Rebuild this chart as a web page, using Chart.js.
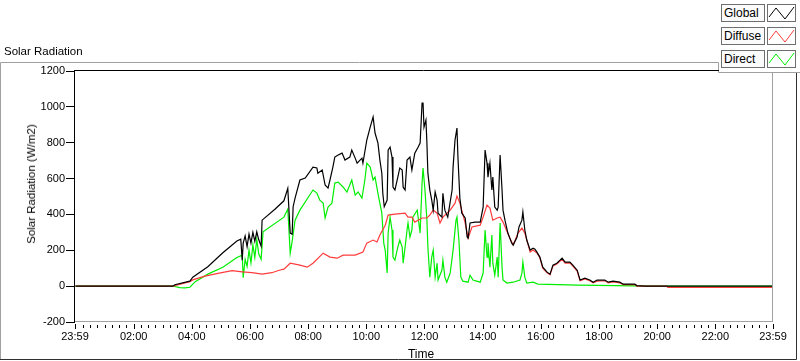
<!DOCTYPE html>
<html>
<head>
<meta charset="utf-8">
<script src="https://cdn.jsdelivr.net/npm/chart.js@4/dist/chart.umd.min.js"></script>
<style>
  body { margin: 0; background: #fff; font-family: "Liberation Sans", Arial, sans-serif; }
  #wrap { position: relative; width: 800px; height: 361px; overflow: hidden; }
  #solarChart { position: absolute; left: 0; top: 0; }
  .txt { position: absolute; color: #000; white-space: nowrap; font-size: 11.5px; line-height: 14px; }
  #legendPanel { position: absolute; left: 719px; top: 0; width: 81px; height: 72px; background: #fff; }
  .lbl { position: absolute; left: 721px; width: 40px; height: 16px; border: 1px solid #6e6e6e;
         background: #fbfbfb; font-size: 12px; line-height: 16px; padding-left: 2px; box-sizing: content-box; }
  .smp { position: absolute; left: 767px; width: 27px; height: 16px; border: 1px solid #6e6e6e; background: #fff; }
</style>
</head>
<body>
<div id="wrap">
  <canvas id="solarChart" width="800" height="361"></canvas>
  <div class="txt" style="left:4px; top:44px;">Solar Radiation</div>
  <div class="txt" style="left:31px; top:184px; transform: translate(-50%,-50%) rotate(-90deg);">Solar Radiation (W/m2)</div>
  <div class="txt" style="left:421px; top:347px; font-size:12px; transform: translateX(-50%);">Time</div>
  <div id="legendPanel"></div>
  <div id="legend"></div>
</div>
<script>
// series names and colours
var seriesNames = ["Global", "Diffuse", "Direct"];
var seriesColors = ["#000000", "#ff3c3c", "#00ee00"];

// x axis tick labels (minutes from midnight, first one is 23:59 of the day before)
var xTickMinutes = [-1, 120, 240, 360, 480, 600, 720, 840, 960, 1080, 1200, 1320, 1439];
var xTickLabels = ["23:59", "02:00", "04:00", "06:00", "08:00", "10:00", "12:00",
                   "14:00", "16:00", "18:00", "20:00", "22:00", "23:59"];

// Global (W/m2)
var globalTimes = ["00:00","03:21","03:25","03:56","04:02","04:33","05:04","05:33","05:41","05:44",
  "05:46","05:50","05:54","05:58","06:02","06:06","06:10","06:14","06:18","06:23",
  "06:25","06:52","07:10","07:18","07:23","07:27","07:29","07:33","07:43","07:54",
  "08:10","08:18","08:20","08:29","08:35","08:41","08:45","08:51","08:55","09:02",
  "09:10","09:16","09:26","09:30","09:37","09:41","09:51","09:53","10:01","10:08",
  "10:14","10:18","10:24","10:28","10:32","10:34","10:37","10:43","10:45","10:49",
  "10:53","10:55","10:59","11:05","11:09","11:14","11:16","11:20","11:24","11:30",
  "11:34","11:40","11:47","11:51","11:55","11:57","11:59","12:03","12:05","12:07",
  "12:11","12:15","12:18","12:22","12:26","12:28","12:36","12:38","12:42","12:48",
  "12:57","12:59","13:03","13:07","13:09","13:13","13:17","13:24","13:28","13:30",
  "13:34","13:44","13:55","14:01","14:05","14:09","14:11","14:15","14:19","14:21",
  "14:25","14:30","14:32","14:36","14:40","14:42","14:46","14:52","15:00","15:03",
  "15:11","15:15","15:21","15:23","15:27","15:31","15:38","15:44","15:48","15:52",
  "15:58","16:04","16:13","16:19","16:25","16:33","16:44","16:50","17:00","17:06",
  "17:15","17:21","17:31","17:41","17:48","17:56","18:12","18:19","18:29","18:43",
  "18:50","19:14","19:18","19:35","23:59"];
var globalValues = [0, 0, 8, 28, 50, 108, 186, 252, 262, 145,
  240, 280, 220, 290, 240, 300, 250, 303, 260, 223,
  368, 430, 476, 545, 296, 290, 443, 491, 592, 603,
  664, 659, 630, 648, 564, 547, 592, 664, 720, 731,
  742, 703, 720, 759, 714, 686, 714, 686, 815, 887,
  943, 854, 798, 703, 630, 518, 443, 480, 759, 776,
  720, 552, 536, 608, 659, 648, 552, 536, 703, 720,
  648, 742, 776, 798, 1021, 1021, 887, 926, 798, 630,
  536, 480, 424, 525, 480, 407, 385, 518, 424, 385,
  536, 664, 815, 882, 720, 490, 407, 380, 274, 268,
  352, 357, 357, 441, 759, 686, 608, 686, 536, 608,
  441, 424, 441, 731, 536, 424, 368, 296, 240, 229,
  274, 330, 368, 413, 313, 257, 201, 212, 206, 190,
  162, 106, 78, 67, 117, 128, 156, 134, 134, 117,
  89, 34, 45, 34, 22, 34, 34, 22, 28, 22,
  11, 11, 3, 0, 0];

// Diffuse (W/m2)
var diffuseTimes = ["00:00","03:21","03:56","04:02","04:27","04:54","05:23","05:44","06:04","06:25",
  "06:45","07:02","07:10","07:23","07:43","07:58","08:10","08:31","08:45","09:00",
  "09:12","09:37","09:53","10:01","10:14","10:22","10:28","10:39","10:45","10:59",
  "11:20","11:26","11:34","11:40","11:47","11:55","12:05","12:11","12:18","12:26",
  "12:32","12:38","12:53","13:03","13:07","13:13","13:24","13:30","13:38","13:55",
  "14:01","14:09","14:15","14:21","14:30","14:36","14:42","14:56","15:03","15:13",
  "15:21","15:27","15:38","15:44","15:52","15:58","16:04","16:13","16:19","16:25",
  "16:33","16:44","16:50","17:00","17:06","17:15","17:21","17:31","17:41","17:48",
  "17:56","18:12","18:19","18:29","18:43","18:50","19:14","19:18","20:20","20:22",
  "23:59"];
var diffuseValues = [0, 0, 25, 35, 56, 71, 86, 80, 75, 67,
  75, 90, 95, 128, 117, 106, 128, 184, 162, 156,
  173, 173, 190, 240, 257, 246, 285, 340, 396, 402,
  407, 385, 385, 357, 368, 380, 380, 396, 424, 407,
  352, 385, 424, 463, 502, 463, 352, 268, 330, 340,
  385, 452, 435, 368, 380, 385, 357, 268, 229, 296,
  324, 296, 190, 201, 185, 158, 100, 74, 63, 112,
  124, 150, 128, 130, 112, 84, 30, 40, 30, 18,
  28, 30, 18, 24, 18, 8, 8, 0, 0, -7,
  -7];

// Direct (W/m2)
var directTimes = ["00:00","03:21","03:25","03:35","03:46","03:56","04:07","04:33","05:04","05:33",
  "05:44","05:46","05:50","05:54","05:58","06:02","06:06","06:10","06:14","06:18",
  "06:23","06:27","07:10","07:18","07:23","07:27","07:33","07:43","08:10","08:18",
  "08:24","08:31","08:35","08:41","08:49","08:55","09:02","09:12","09:20","09:30",
  "09:37","09:43","09:51","09:57","10:01","10:08","10:14","10:18","10:24","10:32",
  "10:36","10:39","10:43","10:45","10:49","10:53","10:55","10:59","11:05","11:09",
  "11:14","11:16","11:20","11:24","11:26","11:30","11:34","11:36","11:45","11:51",
  "11:55","11:57","12:01","12:05","12:07","12:11","12:15","12:18","12:22","12:26",
  "12:28","12:36","12:38","12:42","12:46","12:53","12:59","13:05","13:07","13:11",
  "13:15","13:19","13:30","13:34","13:40","13:55","14:01","14:05","14:09","14:11",
  "14:15","14:19","14:21","14:25","14:30","14:32","14:36","14:40","14:42","14:50",
  "15:03","15:17","15:21","15:23","15:27","15:31","15:44","15:54","17:17","19:14",
  "19:18","23:59"];
var directValues = [0, 0, -2, -8, -10, -6, 25, 67, 105, 160,
  173, 47, 150, 110, 200, 130, 230, 160, 260, 180,
  150, 303, 385, 430, 184, 250, 368, 424, 536, 519,
  480, 463, 380, 441, 463, 575, 580, 553, 525, 592,
  508, 525, 491, 592, 686, 664, 592, 608, 518, 407,
  240, 200, 73, 296, 385, 313, 162, 145, 218, 257,
  218, 128, 218, 313, 352, 274, 313, 385, 424, 296,
  575, 659, 536, 368, 218, 50, 162, 201, 50, 128,
  34, 90, 145, 50, 22, 73, 201, 368, 385, 257,
  50, 28, 22, 61, 34, 22, 73, 313, 162, 240,
  106, 285, 128, 61, 162, 50, 352, 106, 34, 17,
  22, 34, 73, 134, 50, 17, 22, 11, 6, 2,
  0, 0];

function toMin(s) {
  var p = s.split(":");
  return Number(p[0]) * 60 + Number(p[1]);
}
function toPoints(times, values) {
  return times.map(function(t, i) { return {x: toMin(t), y: values[i]}; });
}

// LabVIEW style frame, plot border and x ticks
var framePlugin = {
  id: "frame",
  beforeDraw: function(c) {
    var ctx = c.ctx;
    ctx.save();
    ctx.lineWidth = 1;
    ctx.strokeStyle = "#a0a0a0";
    ctx.beginPath();
    ctx.moveTo(0.5, 360);
    ctx.lineTo(0.5, 62.5);
    ctx.lineTo(718.5, 62.5);
    ctx.lineTo(718.5, 72.5);
    ctx.lineTo(800, 72.5);
    ctx.stroke();
    ctx.strokeStyle = "#303030";
    ctx.beginPath();
    ctx.moveTo(0, 359.5);
    ctx.lineTo(796.5, 359.5);
    ctx.lineTo(796.5, 73);
    ctx.stroke();
    ctx.restore();
  },
  afterDraw: function(c) {
    var a = c.chartArea, ctx = c.ctx, xs = c.scales.x;
    ctx.save();
    ctx.lineWidth = 1;
    ctx.strokeStyle = "#a0a0a0";
    ctx.beginPath();
    ctx.moveTo(a.right - 0.5, a.top);
    ctx.lineTo(a.right - 0.5, a.bottom);
    ctx.moveTo(a.left, a.bottom - 0.5);
    ctx.lineTo(a.right, a.bottom - 0.5);
    ctx.stroke();
    ctx.strokeStyle = "#000";
    ctx.beginPath();
    ctx.moveTo(a.left - 1, a.top - 0.5);
    ctx.lineTo(a.right, a.top - 0.5);
    ctx.moveTo(a.left - 0.5, a.top - 1);
    ctx.lineTo(a.left - 0.5, a.bottom + 1);
    // minor ticks every 15 minutes
    for (var m = 15; m < 1439; m += 15) {
      if (m % 120 === 0) continue;
      var px = Math.round(xs.getPixelForValue(m)) + 0.5;
      ctx.moveTo(px, a.bottom + 3);
      ctx.lineTo(px, a.bottom + 6);
    }
    xTickMinutes.forEach(function(v) {
      var px = Math.round(xs.getPixelForValue(v)) + 0.5;
      ctx.moveTo(px, a.bottom + 2);
      ctx.lineTo(px, a.bottom + 7);
    });
    ctx.stroke();
    ctx.restore();
  }
};

var pointSets = [
  toPoints(globalTimes, globalValues),
  toPoints(diffuseTimes, diffuseValues),
  toPoints(directTimes, directValues)
];

var chart = new Chart("solarChart", {
  type: "line",
  data: {
    datasets: seriesNames.map(function(name, i) {
      return {
        label: name,
        data: pointSets[i],
        borderColor: seriesColors[i],
        borderWidth: 1.2,
        pointRadius: 0,
        tension: 0,
        fill: false
      };
    })
  },
  options: {
    responsive: false,
    animation: false,
    devicePixelRatio: 1,
    layout: { padding: { left: 0, right: 27, top: 71, bottom: 0 } },
    plugins: { legend: { display: false }, tooltip: { enabled: false } },
    scales: {
      x: {
        type: "linear",
        min: -1,
        max: 1439,
        afterBuildTicks: function(s) {
          s.ticks = xTickMinutes.map(function(v) { return {value: v}; });
        },
        afterFit: function(s) { s.height = 39; },
        ticks: {
          autoSkip: false,
          maxRotation: 0,
          padding: 8,
          color: "#000",
          font: { family: "Liberation Sans", size: 11 },
          callback: function(v, i) { return xTickLabels[i]; }
        },
        grid: { display: false, drawTicks: false },
        border: { display: false }
      },
      y: {
        min: -200,
        max: 1200,
        afterFit: function(s) { s.width = 75; },
        ticks: {
          stepSize: 200,
          padding: 1,
          color: "#000",
          font: { family: "Liberation Sans", size: 11 },
          callback: function(v) { return String(v); }
        },
        grid: { drawOnChartArea: false, tickLength: 9, color: "#000" },
        border: { display: false }
      }
    }
  },
  plugins: [framePlugin]
});

// legend boxes, LabVIEW plot legend style
var legend = document.getElementById("legend");
seriesNames.forEach(function(name, i) {
  var top = 4 + i * 23;
  var lbl = document.createElement("div");
  lbl.className = "lbl";
  lbl.style.top = top + "px";
  lbl.textContent = name;
  legend.appendChild(lbl);
  var smp = document.createElement("div");
  smp.className = "smp";
  smp.style.top = top + "px";
  smp.innerHTML = '<svg width="27" height="16"><polyline points="1,12 8,3 17,14 26,2" fill="none" stroke="' +
    seriesColors[i] + '" stroke-width="1"/></svg>';
  legend.appendChild(smp);
});
</script>
</body>
</html>
